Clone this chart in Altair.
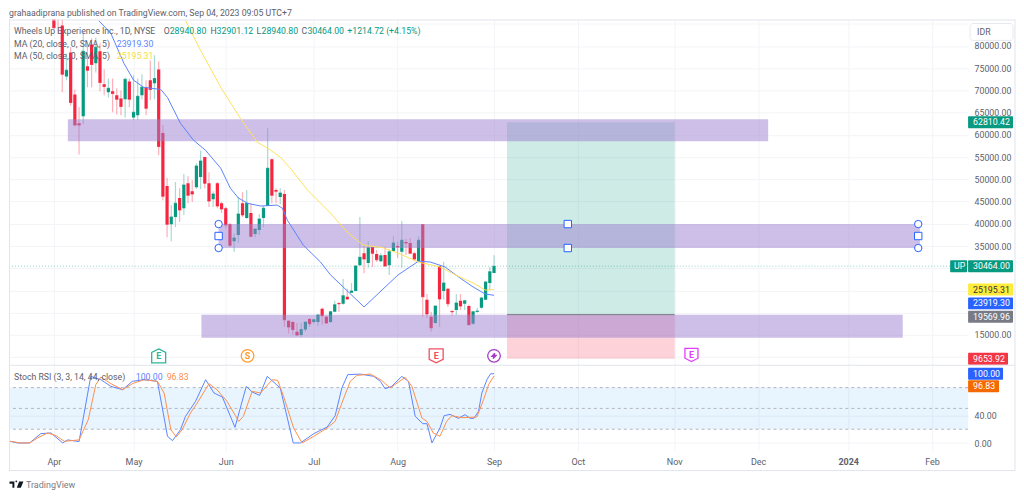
import altair as alt
import pandas as pd

# ---------- data (prices in thousands of IDR, x = trading-bar number, 0 = first bar of April)
opens = [86.5,87,84.6,73.1,78.5,69.1,62.6,64.2,75.4,80.3,76.1,78.8,71.4,69.6,69.8,68.9,68.2,68.0,72.0,63.9,
         64.4,68.9,70.7,72.3,71.6,74.7,60.4,48.5,39.9,41.5,45.8,43.5,49.1,47.3,48.2,50.5,55.0,49.1,45.5,49.1,
         44.6,43.5,39.9,36.1,37.5,44.6,41.3,42.4,37.7,38.6,41.3,44.0,54.5,47.6,46.0,46.7,18.2,17.9,15.7,15.0,
         16.2,18.6,17.9,17.9,20.9,19.1,17.9,20.2,22.2,22.0,23.6,24.5,24.9,30.7,33.4,31.2,34.8,33.2,31.6,33.0,
         30.7,33.9,35.0,33.7,35.9,35.7,33.4,31.6,39.9,22.9,19.1,17.7,30.5,24.9,25.4,20.4,20.6,22.7,22.0,21.5,
         17.5,20.2,21.1,22.9,26.7,28.94]
highs = [87,88,86.5,78.3,79.7,70.2,66.2,83.2,80.1,81.7,81.9,80.6,74.7,72.7,72.7,70.5,70.0,72.9,72.7,73.4,
         72.7,73.6,72.3,76.7,77.9,76.5,62.2,50.3,44.2,49.4,48.0,51.2,50.7,49.8,53.6,56.5,55.0,51.6,47.3,49.4,
         44.9,43.8,40.2,37.9,46.0,47.1,47.6,44.6,38.8,42.2,44.0,61.5,54.7,48.0,48.0,47.6,18.4,18.2,17.7,17.7,
         17.9,18.8,18.6,19.7,21.1,19.3,20.4,22.7,22.4,27.6,25.4,26.7,30.7,41.5,35.2,36.1,35.0,34.1,33.4,34.8,
         34.3,37.2,35.9,40.6,36.6,36.8,33.7,37.2,39.9,24.2,20.2,21.5,30.7,31.4,25.6,20.6,24.2,24.2,22.9,21.8,
         20.4,21.1,23.6,27.2,30.3,32.90]
lows = [83.9,82.8,69.6,72.3,66.6,61.9,55.6,62.4,70.7,70.7,74.0,69.8,68.9,68.4,65.1,64.6,64.4,63.9,66.2,63.3,
        63.3,68.0,64.4,67.8,68.0,55.4,45.3,37.0,36.1,39.3,40.4,42.0,44.6,44.9,47.8,47.8,48.0,43.8,43.8,43.5,
        42.4,39.0,34.8,33.7,35.7,41.5,41.1,37.0,37.0,37.5,39.3,44.0,44.6,44.6,44.4,16.8,15.3,15.0,14.8,14.6,
        15.7,16.8,17.5,17.0,17.3,17.5,17.7,20.2,20.2,21.8,22.9,24.5,24.9,30.5,28.9,30.1,30.3,31.4,31.4,30.3,
        28.5,33.9,32.3,30.1,33.0,33.2,31.6,31.4,19.1,18.8,15.7,17.5,16.8,22.9,21.3,19.3,19.5,20.6,20.6,17.3,
        17.3,20.0,20.9,22.9,25.1,28.94]
closes = [84.1,86.5,73.6,74.5,67.3,62.2,62.2,78.8,74.5,75.8,79.7,71.8,70.9,70.5,69.3,68.0,66.4,72.5,68.0,65.1,
          68.7,70.7,66.0,70.2,72.7,57.4,46.2,39.9,41.5,44.6,43.1,48.7,46.4,46.7,53.0,54.1,49.1,45.1,46.7,44.0,
          43.3,39.7,35.2,36.8,42.2,42.0,44.6,37.2,38.8,41.1,43.5,52.5,46.4,47.3,46.9,18.4,16.8,16.2,15.0,16.2,
          17.9,17.5,18.4,19.5,19.3,17.7,20.2,21.8,22.0,23.8,23.1,24.9,30.5,32.5,32.1,34.6,33.4,31.9,32.8,30.5,
          33.7,35.7,34.8,36.3,35.7,33.4,32.1,36.3,23.6,19.7,16.6,21.5,23.1,26.7,22.0,20.2,22.2,21.5,22.7,17.3,
          20.2,20.4,23.3,26.9,29.2,30.464]

ma20_bars = [10.7,13.6,16.7,19,21.4,25.5,27.1,30.2,33.3,36.2,39.8,42.1,44,46.2,49.3,53.3,54.5,55.7,59.5,63.6,
             66,69,74,82.1,87,89.8,93.3,96.9,100,102.9,105]
ma20_vals = [85.7,82.8,76.1,72.3,70.7,70.2,68.4,62.6,58.8,56.5,52.5,48.0,45.8,44.6,44.0,44.2,43.5,40.8,35.2,31.4,
             28.5,25.8,21.3,28.5,31.6,31.4,30.3,27.8,25.8,24.2,23.92]
ma50_bars = [31.4,35,39.8,44.5,48.6,51,54,56.4,60.5,66,70,73.8,78.6,82.6,86.9,92.1,96.9,100,102.9,105]
ma50_vals = [85.7,79.0,70.7,63.7,58.3,57.0,55.0,52.5,47.6,42.4,38.1,35.2,34.6,33.2,31.4,30.3,28.0,26.7,25.1,25.2]

k_bars = [-10.9,-8.7,-5.8,-3.1,-0.7,2.1,3.3,6,8.8,11.2,13.6,16.4,18.7,21.5,24.7,27.1,28.3,30.2,31.4,33.8,36.2,38.2,
          40.2,43.2,45.9,47.3,49.1,50.9,54,57.1,58.8,62,65.2,67.1,68.7,70.1,73.1,76.3,77.9,79,80.6,83,84.6,86.2,88,
          89,90.2,92.1,93.1,94.5,96.5,98.1,99.3,100.2,101.3,102.1,103.3,104.2,105]
k_vals = [3.1,0.2,0.2,13.7,14.6,0.2,4.6,2.2,96.2,91.4,81.8,77,89,91.4,89,9.8,3.6,19.4,38.6,60.2,91.4,72.2,
          66.4,22.7,81.8,73.6,68.8,96.2,79.4,0.2,0.2,13.6,23.2,39.5,79.4,98.6,99.5,96.2,89,78.4,81.8,96.2,89,38.6,28,
          28,0.2,21.8,39.5,41.4,35.7,41,35.7,35.7,45.8,72.2,91.4,100,100]
d_bars = [-10.9,-8,-5.8,-3.9,-1.5,0.5,2.5,6,8.2,10,11.2,13.6,16.4,18.7,21.5,24.7,26.3,27.9,29.2,30.6,32.6,34.2,37,38.9,
          41.3,44.1,45.2,47.3,49.3,52.1,53.4,54.8,57.2,59.2,62,65.2,67.1,68.7,70.7,72.3,75.5,78.2,80.2,83.8,85.4,87.8,
          89,90.5,92.1,93.7,94.9,97.3,100.9,102.5,103.7,105]
d_vals = [3.1,0.2,0.2,7.4,14.6,10.8,2.6,4.6,33.7,84.2,95.2,85.6,77,85.6,91.4,89,72.2,19.4,8.9,19.4,43.4,57.8,85.6,77,
          60.2,31.3,38.6,74.6,72.2,91.4,90.4,67.2,21.8,0.2,9.8,21.8,31.3,57.6,89,97.6,99.5,90.4,79.4,94.8,81.8,36.2,
          31.3,14.6,9.8,31.3,39.5,36.7,37.6,62.4,84.2,96.83]

month_bars = [0,19,41,62,82,105,125,148,168,189.5,209.5]
month_names = ["Apr","May","Jun","Jul","Aug","Sep","Oct","Nov","Dec","2024","Feb"]
zone_names = ["top","middle","bottom"]
zone_from = [3.33,39.3,35.2]
zone_to = [170.4,206.6,202.5]
zone_hi = [63.5,39.94,19.52]
zone_lo = [58.57,34.55,14.36]
target, entry, stop = 62.81042, 19.56996, 9.65392
last_close = 30.464
pos_from, pos_to, pos_mid = 108.1, 148.1, 122.6
price_ticks = [10,15,20,25,30,35,40,45,50,55,60,65,70,75,80,85]
shown_ticks = [15,35,40,45,50,55,60,65,70,75,80]

GREEN, RED, BLUE, YEL = "#089981", "#f7253f", "#2962ff", "#fbe14d"
GREY, TXT, GRID, FRAME = "#787b86", "#5d606b", "#f3f4f7", "#e2e4ec"
FONT = "Roboto"

# ---------- scales and axes
W, H1, H2 = 961, 346, 86
x_scale = alt.Scale(domain=[-10.71, 218.1], nice=False, zero=False)
p_scale = alt.Scale(domain=[8.296, 85.95], nice=False, zero=False)
r_scale = alt.Scale(domain=[-10.8, 112.9], nice=False, zero=False)

top_x_axis = alt.Axis(values=month_bars, labels=False, ticks=False, domain=False, grid=True, gridColor=GRID)
top_y_axis = alt.Axis(orient="right", values=price_ticks, domain=False, ticks=False, grid=True, gridColor=GRID,
                      labelExpr=f"indexof({shown_ticks},datum.value)>=0?format(datum.value*1000,'.2f'):''",
                      labelFontSize=8.8, labelColor=TXT, labelFont=FONT, labelPadding=6)
low_x_axis = alt.Axis(values=month_bars, domain=False, ticks=False, grid=True, gridColor=GRID, labelPadding=7,
                      labelExpr=f"{month_names}[indexof({month_bars},datum.value)]",
                      labelFontSize=9, labelColor=TXT, labelFont=FONT,
                      labelFontWeight={"condition": {"test": "datum.value==189.5", "value": "bold"}, "value": "normal"})
low_y_axis = alt.Axis(orient="right", values=[0, 40], domain=False, ticks=False, grid=True, gridColor=GRID,
                      format=".2f", labelFontSize=8.8, labelColor=TXT, labelFont=FONT, labelPadding=6)

candles = pd.DataFrame({"bar": range(len(opens)), "o": opens, "h": highs, "l": lows, "c": closes})
candles["dir"] = ["up" if c >= o else "down" for o, c in zip(opens, closes)]
dir_color = alt.Color("dir:N", scale=alt.Scale(domain=["up","down"], range=[GREEN, RED]), legend=None)
one = alt.InlineData(values=[{}])
X = lambda f="bar": alt.X(f"{f}:Q", scale=x_scale, title=None, axis=top_x_axis)
XB = lambda f="bar": alt.X(f"{f}:Q", scale=x_scale, title=None, axis=low_x_axis)
Y = lambda f: alt.Y(f"{f}:Q", scale=p_scale, title=None, axis=top_y_axis)
R = lambda f: alt.Y(f"{f}:Q", scale=r_scale, title=None, axis=low_y_axis)


def label(text, x, y, color=TXT, size=8.75, weight="normal", align="left", font=FONT):
    return alt.Chart(one).mark_text(text=text, align=align, baseline="middle", color=color, fontSize=size,
                                    fontWeight=weight, font=font).encode(x=alt.value(x), y=alt.value(y))


def hline(x1, x2, y, color=FRAME):
    return alt.Chart(one).mark_rule(color=color, strokeWidth=1).encode(x=alt.value(x1), x2=alt.value(x2), y=alt.value(y))


def vline(x, y1, y2, color=FRAME):
    return alt.Chart(one).mark_rule(color=color, strokeWidth=1).encode(x=alt.value(x), y=alt.value(y1), y2=alt.value(y2))


def tag(text, value, bg, fg, x1, x2, scale_y, tx=None):
    d = pd.DataFrame({"v": [value]})
    r = alt.Chart(d).mark_rect(color=bg, height=12, cornerRadius=1).encode(x=alt.value(x1), x2=alt.value(x2), y=scale_y("v"))
    t = alt.Chart(d).mark_text(text=text, align="left", baseline="middle", color=fg, fontSize=8.8, font=FONT).encode(
        x=alt.value(x1 + 5 if tx is None else tx), y=scale_y("v"))
    return r + t


def icon(shape, bar, price, color, size, text=None, fill="white"):
    d = pd.DataFrame({"bar": [bar], "p": [price]})
    m = alt.Chart(d).mark_point(shape=shape, size=size, filled=True, fill=fill, stroke=color, strokeWidth=1.3,
                                opacity=1).encode(x=X(), y=Y("p"))
    if text:
        m = m + alt.Chart(d).mark_text(text=text, color=color, fontSize=9, fontWeight="bold", font=FONT,
                                       baseline="middle").encode(x=X(), y=Y("p"))
    return m


wicks = alt.Chart(candles).mark_rule(strokeWidth=1.2, opacity=0.36, clip=True).encode(
    x=X(), y=Y("h"), y2="l:Q", color=dir_color)
bodies = alt.Chart(candles).mark_rect(width=3.2, clip=True).encode(x=X(), y=Y("o"), y2="c:Q", color=dir_color)
doji = alt.Chart(candles).mark_tick(orient="horizontal", thickness=1, size=3.2, clip=True).encode(x=X(), y=Y("c"), color=dir_color)

ma20 = alt.Chart(pd.DataFrame({"bar": ma20_bars, "v": ma20_vals})).mark_line(color="#5c84ff", strokeWidth=1, clip=True).encode(x=X(), y=Y("v"))
ma50 = alt.Chart(pd.DataFrame({"bar": ma50_bars, "v": ma50_vals})).mark_line(color="#fde25a", strokeWidth=1, clip=True).encode(x=X(), y=Y("v"))

zones_df = pd.DataFrame({"name": zone_names, "a": zone_from, "b": zone_to, "hi": zone_hi, "lo": zone_lo})
zones = alt.Chart(zones_df).mark_rect(color="#9c7fd0", opacity=0.5).encode(x=X("a"), x2="b:Q", y=Y("hi"), y2="lo:Q")
pos_df = pd.DataFrame({"a": [pos_from, pos_from], "b": [pos_to, pos_to], "hi": [target, entry], "lo": [entry, stop],
                       "kind": ["profit", "loss"]})
position = alt.Chart(pos_df).mark_rect(opacity=0.2).encode(
    x=X("a"), x2="b:Q", y=Y("hi"), y2="lo:Q",
    color=alt.Color("kind:N", scale=alt.Scale(domain=["profit","loss"], range=[GREEN, "#f23645"]), legend=None))
entry_line = alt.Chart(pos_df.iloc[[0]]).mark_rule(color=GREY, strokeWidth=1).encode(x=X("a"), x2="b:Q", y=Y("lo"))
last_line = alt.Chart(pd.DataFrame({"v": [last_close]})).mark_rule(color=GREEN, strokeDash=[1, 2], opacity=0.45).encode(y=Y("v"))

# drawing handles
hx = [39.3, 39.3, 39.3, 206.2, 206.2, 206.2]
hp = [39.94, 37.25, 34.55, 39.94, 37.25, 34.55]
hs = ["circle", "square", "circle", "circle", "square", "circle"]
handles_df = pd.DataFrame({"bar": hx + [pos_mid, pos_mid], "p": hp + [39.94, 34.55], "s": hs + ["square", "square"]})
handles = alt.Chart(handles_df).mark_point(filled=True, fill="white", stroke=BLUE, strokeWidth=1, size=55, opacity=1).encode(
    x=X(), y=Y("p"), shape=alt.Shape("s:N", scale=alt.Scale(domain=["circle","square"], range=["circle","square"]), legend=None))

HOUSE = "M0,-1 L1,-0.5 V1 H-1 V-0.5 Z"
SHIELD = "M-1,-1 H1 V0.5 L0,1 L-1,0.5 Z"
BOLT = "M0.3,-1 L-0.8,0.2 H-0.05 L-0.3,1 L0.8,-0.2 H0.05 Z"
events = [
    icon(HOUSE, 25, 10.3, "#2fb59a", 196, "E"),
    icon("circle", 46.2, 10.3, "#ff9d2e", 160, "S"),
    icon(SHIELD, 91.2, 10.3, "#f2505f", 196, "E"),
    icon("circle", 105, 10.3, "#a63cc4", 160),
    icon(BOLT, 105, 10.3, "#a63cc4", 30, fill="#a63cc4"),
    icon(SHIELD, 152.1, 10.5, "#e040fb", 170, "E"),
]

tags_top = [
    tag("62810.42", target, GREEN, "white", W, W + 45, Y),
    tag("UP", last_close, GREEN, "white", W - 18, W - 1, Y, tx=W - 14),
    tag("30464.00", last_close, GREEN, "white", W, W + 45, Y),
    tag("25195.31", 25.2, "#ffeb3b", "#333", W, W + 45, Y),
    tag("23919.30", 22.1, BLUE, "white", W, W + 45, Y),
    tag("19569.96", 19.1, GREY, "white", W, W + 45, Y),
    tag("9653.92", stop, "#f23645", "white", W, W + 40, Y),
]
idr_box = alt.Chart(one).mark_rect(fill="white", stroke="#e6e8ee", cornerRadius=3).encode(
    x=alt.value(963), x2=alt.value(1006), y=alt.value(4), y2=alt.value(21))

header = [
    label("grahaadiprana published on TradingView.com, Sep 04, 2023 09:05 UTC+7", 0, -6.5),
    label("Wheels Up Experience Inc., 1D, NYSE", 5, 12),
    label("O", 155, 12), label("28940.80", 161, 12, GREEN),
    label("H", 202, 12), label("32901.12", 208, 12, GREEN),
    label("L", 248, 12), label("28940.80", 253, 12, GREEN),
    label("C", 293, 12), label("30464.00", 299, 12, GREEN),
    label("+1214.72 (+4.15%)", 339, 12, GREEN),
    label("MA (20, close, 0, SMA, 5)", 5, 24.5), label("23919.30", 108, 24.5, "#5c84ff"),
    label("MA (50, close, 0, SMA, 5)", 5, 36.5), label("25195.31", 108, 36.5, "#f5dc3c"),
    label("IDR", 970, 13),
]

top = alt.layer(
    wicks, bodies, doji, position, zones, entry_line, last_line, ma20, ma50, handles, *events, *tags_top,
    idr_box, *header,
    hline(0, 1008, 0.5), vline(0.5, 0, H1), vline(1008, 0, H1),
).properties(width=W, height=H1)

# ---------- Stoch RSI pane
band = alt.Chart(pd.DataFrame({"a": [80], "b": [20], "l": [-10.71], "r": [218.1]})).mark_rect(color="#2196f3", opacity=0.1).encode(
    y=R("a"), y2="b:Q", x=XB("l"), x2="r:Q")
levels = alt.Chart(pd.DataFrame({"v": [80, 50, 20]})).mark_rule(color="#b4b7c0", strokeDash=[3, 3], strokeWidth=1).encode(y=R("v"))
line_k = alt.Chart(pd.DataFrame({"bar": k_bars, "v": k_vals})).mark_line(color="#5c84ff", strokeWidth=1, clip=True).encode(x=XB(), y=R("v"))
line_d = alt.Chart(pd.DataFrame({"bar": d_bars, "v": d_vals})).mark_line(color="#ff8f4d", strokeWidth=1, clip=True).encode(x=XB(), y=R("v"))
logo_path = "M-1,-0.45 H-0.3 V0.45 H-0.58 V-0.1 H-1 Z M0.05,0.45 L0.38,-0.45 H1 L0.62,0.45 Z M-0.16,-0.45 A0.13,0.13 0 1 1 -0.1599,-0.449 Z"
logo = alt.Chart(one).mark_point(shape=logo_path, size=196, filled=True, fill="#131722", opacity=1).encode(
    x=alt.value(7.5), y=alt.value(120))

bottom = alt.layer(
    band, levels, line_k, line_d,
    tag("100.00", 100, BLUE, "white", W, W + 35, R),
    tag("96.83", 82, "#f56a00", "white", W, W + 31, R),
    label("Stoch RSI (3, 3, 14, 44, close)", 5, 12),
    label("100.00", 127, 12, "#5c84ff"),
    label("96.83", 158, 12, "#ff8f4d"),
    hline(0, 1008, 0.5), hline(0, 1008, 106), vline(0.5, 0, 106), vline(1008, 0, 106),
    logo, label("TradingView", 17, 120, "#787b86", 9),
).properties(width=W, height=H2)

chart = alt.vconcat(top, bottom, spacing=0, bounds="flush").properties(padding=0).configure_view(stroke=None)
chart.save("out.html", embed_options={"renderer": "svg", "actions": False})
